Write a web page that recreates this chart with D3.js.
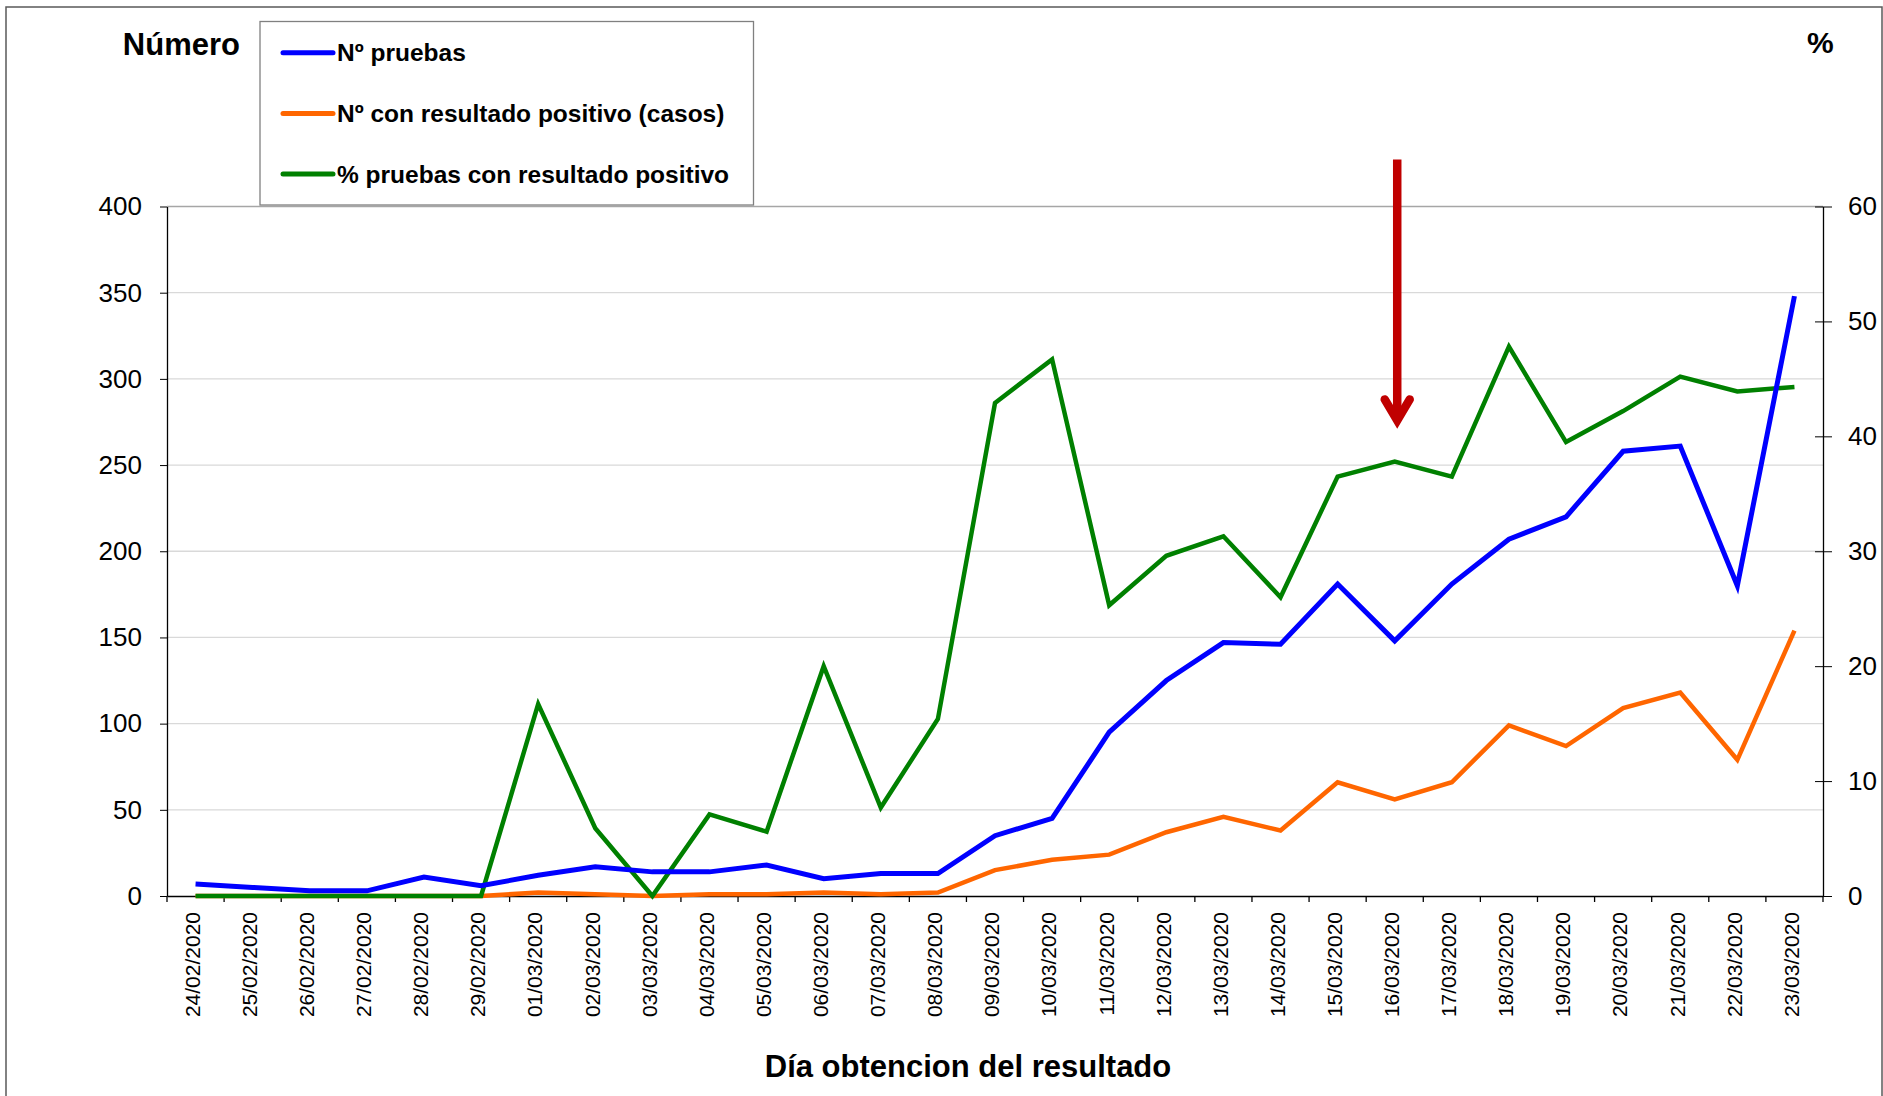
<!DOCTYPE html>
<html>
<head>
<meta charset="utf-8">
<script src="https://cdn.jsdelivr.net/npm/d3@7"></script>
<style>
  body { margin: 0; background: #fff; }
  svg { display: block; font-family: "Liberation Sans", Arial, sans-serif; }
  .axis text { fill: #000; }
  .axis path, .axis line { stroke: #000; }
</style>
</head>
<body>
<div id="chart"></div>
<script>
var dates = [
  "24/02/2020", "25/02/2020", "26/02/2020", "27/02/2020", "28/02/2020", "29/02/2020",
  "01/03/2020", "02/03/2020", "03/03/2020", "04/03/2020", "05/03/2020", "06/03/2020",
  "07/03/2020", "08/03/2020", "09/03/2020", "10/03/2020", "11/03/2020", "12/03/2020",
  "13/03/2020", "14/03/2020", "15/03/2020", "16/03/2020", "17/03/2020", "18/03/2020",
  "19/03/2020", "20/03/2020", "21/03/2020", "22/03/2020", "23/03/2020"
];
var pruebas = [7, 5, 3, 3, 11, 6, 12, 17, 14, 14, 18, 10, 13, 13, 35, 45, 95, 125, 147, 146,
  181, 148, 181, 207, 220, 258, 261, 180, 348];
var casos = [0, 0, 0, 0, 0, 0, 2, 1, 0, 1, 1, 2, 1, 2, 15, 21, 24, 37, 46, 38,
  66, 56, 66, 99, 87, 109, 118, 79, 154];
var porcentaje = [0, 0, 0, 0, 0, 0, 16.7, 5.9, 0, 7.1, 5.6, 20.0, 7.7, 15.4, 42.9, 46.7, 25.3,
  29.6, 31.3, 26.0, 36.5, 37.8, 36.5, 47.8, 39.5, 42.2, 45.2, 43.9, 44.3];

var leftTicks = [0, 50, 100, 150, 200, 250, 300, 350, 400];
var rightTicks = [0, 10, 20, 30, 40, 50, 60];

var legendLabels = ["Nº pruebas", "Nº con resultado positivo (casos)", "% pruebas con resultado positivo"];
var seriesColors = ["#0000ff", "#ff6600", "#008000"];

// arrow marking 16/03, in % of the right axis
var arrowDate = "16/03/2020";
var arrowTop = 64.1;
var arrowTip = 40.6;

var width = 1883;
var height = 1096;
var plotLeft = 167;
var plotRight = 1823;
var plotTop = 206.5;
var plotBottom = 896;

var svg = d3.select("#chart")
  .append("svg")
    .attr("width", width)
    .attr("height", height);

svg.append("rect")
  .attr("width", width)
  .attr("height", height)
  .attr("fill", "#fff");

// chart frame (no bottom edge visible)
svg.append("rect")
  .attr("x", 6)
  .attr("y", 7)
  .attr("width", 1876)
  .attr("height", 1120)
  .attr("fill", "none")
  .attr("stroke", "#5a5a5a")
  .attr("stroke-width", 1.5);

var x = d3.scaleBand()
  .domain(dates)
  .range([plotLeft, plotRight]);

var yLeft = d3.scaleLinear()
  .domain([0, 400])
  .range([plotBottom, plotTop]);

var yRight = d3.scaleLinear()
  .domain([0, 60])
  .range([plotBottom, plotTop]);

function cx(d) { return x(d) + x.bandwidth() / 2; }

// gridlines
svg.append("g")
  .selectAll("line")
  .data(leftTicks.filter(function(d) { return d > 0; }))
  .enter().append("line")
    .attr("x1", plotLeft)
    .attr("x2", plotRight)
    .attr("y1", function(d) { return yLeft(d); })
    .attr("y2", function(d) { return yLeft(d); })
    .attr("stroke", function(d) { return d === 400 ? "#a6a6a6" : "#d9d9d9"; })
    .attr("stroke-width", 1.3);

// left axis
var leftAxis = svg.append("g")
  .attr("class", "axis")
  .attr("transform", "translate(" + plotLeft + ",0)")
  .call(d3.axisLeft(yLeft).tickValues(leftTicks).tickSize(7).tickPadding(18).tickSizeOuter(0));
leftAxis.selectAll("text").style("font-size", "26px");
leftAxis.select(".domain").attr("stroke-width", 1.3);

// right axis, ticks crossing the line
var rightAxis = svg.append("g")
  .attr("class", "axis")
  .attr("transform", "translate(" + plotRight + ",0)")
  .call(d3.axisRight(yRight).tickValues(rightTicks).tickSize(9).tickPadding(16).tickSizeOuter(0));
rightAxis.selectAll(".tick line").attr("x1", -8);
rightAxis.selectAll("text").style("font-size", "26px");
rightAxis.select(".domain").attr("stroke-width", 1.3);

// bottom axis
var bottomAxis = svg.append("g")
  .attr("class", "axis")
  .attr("transform", "translate(0," + plotBottom + ")")
  .call(d3.axisBottom(x).tickSize(0).tickSizeOuter(0));
bottomAxis.select(".domain").attr("stroke-width", 1.5);
bottomAxis.selectAll("text")
  .style("font-size", "21px")
  .attr("text-anchor", "end")
  .attr("transform", "translate(-2,16) rotate(-90)")
  .attr("x", 0)
  .attr("y", 0)
  .attr("dy", "0.3em");

bottomAxis.selectAll(".boundary")
  .data(dates.concat([null]))
  .enter().append("line")
    .attr("class", "boundary")
    .attr("x1", function(d) { return d === null ? plotRight : x(d); })
    .attr("x2", function(d) { return d === null ? plotRight : x(d); })
    .attr("y1", 0)
    .attr("y2", 6)
    .attr("stroke", function(d, i) { return i === 0 ? "#000" : "#8c8c8c"; })
    .attr("stroke-width", 1.3);

// series
var lineLeft = d3.line()
  .x(function(d, i) { return cx(dates[i]); })
  .y(function(d) { return yLeft(d); });

var lineRight = d3.line()
  .x(function(d, i) { return cx(dates[i]); })
  .y(function(d) { return yRight(d); });

svg.append("path")
  .datum(casos)
  .attr("d", lineLeft)
  .attr("fill", "none")
  .attr("stroke", seriesColors[1])
  .attr("stroke-width", 4.5);

svg.append("path")
  .datum(porcentaje)
  .attr("d", lineRight)
  .attr("fill", "none")
  .attr("stroke", seriesColors[2])
  .attr("stroke-width", 4.5);

svg.append("path")
  .datum(pruebas)
  .attr("d", lineLeft)
  .attr("fill", "none")
  .attr("stroke", seriesColors[0])
  .attr("stroke-width", 5);

// red arrow
var ax = cx(arrowDate) + 2.5;
var tipY = yRight(arrowTip);
var arrow = svg.append("g")
  .attr("stroke", "#c00000")
  .attr("stroke-width", 8.5)
  .attr("fill", "none");

arrow.append("line")
  .attr("x1", ax)
  .attr("x2", ax)
  .attr("y1", yRight(arrowTop))
  .attr("y2", tipY - 10);

arrow.append("path")
  .attr("d", "M" + (ax - 12.5) + "," + (tipY - 30) + "L" + ax + "," + (tipY - 9) + "L" + (ax + 12.5) + "," + (tipY - 30))
  .attr("stroke-linecap", "round")
  .attr("stroke-linejoin", "miter")
  .attr("stroke-miterlimit", 10);

// titles
svg.append("text")
  .attr("x", 240)
  .attr("y", 55)
  .attr("text-anchor", "end")
  .style("font-size", "31px")
  .style("font-weight", "bold")
  .text("Número");

svg.append("text")
  .attr("x", 1807)
  .attr("y", 53)
  .style("font-size", "30px")
  .style("font-weight", "bold")
  .text("%");

svg.append("text")
  .attr("x", 968)
  .attr("y", 1077)
  .attr("text-anchor", "middle")
  .style("font-size", "31px")
  .style("font-weight", "bold")
  .text("Día obtencion del resultado");

// legend
var legend = svg.append("g");

legend.append("rect")
  .attr("x", 260)
  .attr("y", 21.5)
  .attr("width", 493.5)
  .attr("height", 183.5)
  .attr("fill", "#fff")
  .attr("stroke", "#808080")
  .attr("stroke-width", 1.3);

var entries = legend.selectAll(".entry")
  .data(legendLabels)
  .enter().append("g")
    .attr("class", "entry")
    .attr("transform", function(d, i) { return "translate(0," + (52.7 + i * 60.7) + ")"; });

entries.append("line")
  .attr("x1", 283)
  .attr("x2", 333)
  .attr("stroke", function(d, i) { return seriesColors[i]; })
  .attr("stroke-width", 5)
  .attr("stroke-linecap", "round");

entries.append("text")
  .attr("x", 337)
  .attr("y", 8.5)
  .style("font-size", "24.5px")
  .style("font-weight", "bold")
  .text(function(d) { return d; });
</script>
</body>
</html>
